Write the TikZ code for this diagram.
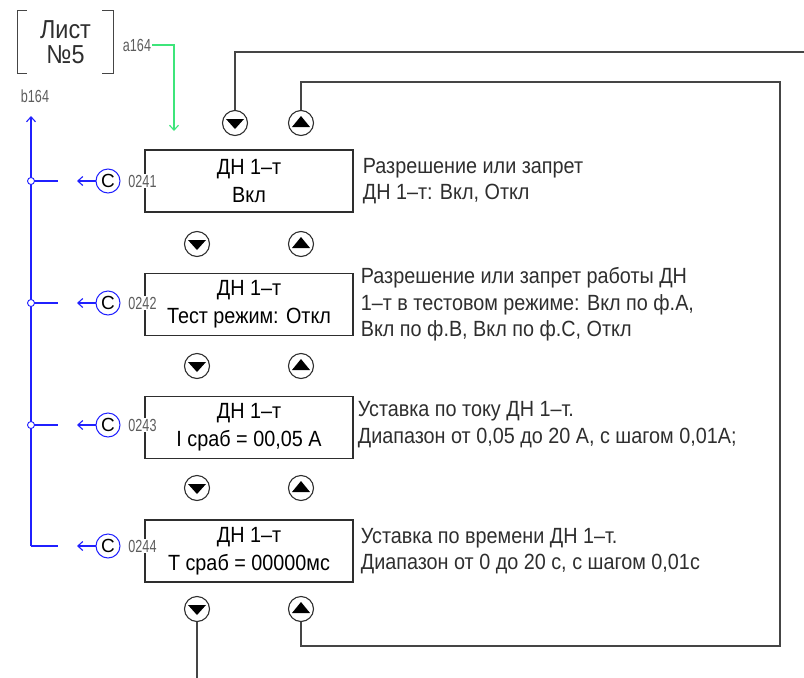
\documentclass[tikz,border=0pt]{standalone}
\usepackage{fontspec}
\setmainfont{Liberation Sans}[FakeStretch=0.9]
\newfontfamily\tagfont{Liberation Sans}[FakeStretch=0.72]
\newfontfamily\plainfont{Liberation Sans}
\usetikzlibrary{arrows.meta,positioning}
\definecolor{ink}{HTML}{2E2E2E}
\definecolor{wire}{HTML}{454545}
\definecolor{busblue}{HTML}{2020FF}
\definecolor{siggreen}{HTML}{3DE57A}
\definecolor{taggray}{HTML}{5C5C5C}

\begin{document}
\begin{tikzpicture}[x=1pt,y=-1pt,>={Straight Barb[length=5pt,width=9pt]}]
\tikzset{menubox/.style={draw=ink,line width=1.3pt,minimum width=208pt,minimum height=62pt,align=center,inner sep=0pt,font=\fontsize{22}{28}\selectfont},
note/.style={anchor=west,align=left,inner sep=0pt,text=ink,font=\fontsize{22}{26.5}\selectfont},
btndn/.style={circle,draw=ink,line width=1.1pt,fill=white,minimum size=25pt,inner sep=0pt,path picture={\fill[black] ([xshift=-9pt,yshift=4pt]path picture bounding box.center) -- ++(18pt,0pt) -- ++(-9pt,-10pt) -- cycle;}},
btnup/.style={circle,draw=ink,line width=1.1pt,fill=white,minimum size=25pt,inner sep=0pt,path picture={\fill[black] ([xshift=-9pt,yshift=-4pt]path picture bounding box.center) -- ++(18pt,0pt) -- ++(-9pt,11pt) -- cycle;}},
cnode/.style={circle,draw=busblue,line width=1pt,minimum size=24pt,inner sep=0pt,font=\plainfont\fontsize{19}{19}\selectfont},
tag/.style={fill=white,inner sep=1pt,text=taggray,font=\tagfont\fontsize{17.5}{17.5}\selectfont},
jn/.style={circle,draw=busblue,line width=0.9pt,minimum size=7pt,inner sep=0pt},
bus/.style={draw=busblue,line width=1.1pt},
wire/.style={draw=wire,line width=1.4pt},
sig/.style={draw=siggreen,line width=1.1pt},
brk/.style={draw=wire,line width=1.3pt}}
\useasboundingbox (0,0) rectangle (804,678);

% sheet reference
\node[minimum width=95pt,minimum height=62pt,align=center,text=ink,font=\fontsize{26}{25}\selectfont] (sheet) at (65.5,42) {Лист\\№5};
\draw[brk] ([xshift=9pt]sheet.north west) -- (sheet.north west) -- (sheet.south west) -- ([xshift=9pt]sheet.south west);
\draw[brk] ([xshift=-11pt]sheet.north east) -- (sheet.north east) -- (sheet.south east) -- ([xshift=-11pt]sheet.south east);
\node[tag] (lblA) at (137,45) {a164};
\node[tag] (lblB) at (35,96) {b164};

% menu
\node[menubox] (box1) at (249,181) {ДН 1–т\\Вкл};
\node[menubox,below=60pt of box1] (box2) {ДН 1–т\\Тест режим: Откл};
\node[menubox,below=60pt of box2] (box3) {ДН 1–т\\I сраб = 00,05 А};
\node[menubox,below=60pt of box3] (box4) {ДН 1–т\\Т сраб = 00000мс};
\node[note,right=9pt of box1] (n1) {Разрешение или запрет\\ДН 1–т: Вкл, Откл};
\node[note,right=7pt of box2] (n2) {Разрешение или запрет работы ДН\\1–т в тестовом режиме: Вкл по ф.А,\\Вкл по ф.В, Вкл по ф.С, Откл};
\node[note,right=4pt of box3,yshift=3pt] (n3) {Уставка по току ДН 1–т.\\Диапазон от 0,05 до 20 А, с шагом 0,01А;};
\node[note,right=7pt of box4] (n4) {Уставка по времени ДН 1–т.\\Диапазон от 0 до 20 с, с шагом 0,01с};

% buttons
\node[btndn] (d0) at (235,123) {};
\node[btnup] (u0) at (301,123) {};
\foreach \i/\y in {1/244,2/366,3/488,4/609}{
  \node[btndn] (d\i) at (197,\y) {};
  \node[btnup] (u\i) at (301,\y) {};
}

% wires
\coordinate (w0) at (804,52);
\coordinate (r1) at (780,82);
\coordinate (r2) at (780,646);
\coordinate (bot) at (197,678);
\draw[wire] (d0.north) |- (w0);
\draw[wire] (u0.north) |- (r1) -- (r2) -| (u4.south);
\draw[wire] (d4.south) -- (bot);
\coordinate (gend) at (174,131);
\draw[sig,->] (lblA.east) -| (gend);

% bus
\coordinate (btop) at (31,116);
\coordinate (bbot) at (31,546);
\draw[bus,->] (bbot) -- (btop);
\foreach \i/\y/\t in {1/181/0241,2/303/0242,3/425/0243,4/546/0244}{
  \coordinate (h\i) at (58,\y);
  \coordinate (a\i) at (77,\y);
  \node[cnode] (c\i) at (108,\y) {C};
  \node[tag] (t\i) at (142.5,\y) {\t};
  \draw[bus] (31,\y) -- (h\i);
  \draw[bus,->] (c\i) -- (a\i);
}
\foreach \i in {1,2,3}{\node[jn,fill=white] (j\i) at (31,{59+122*\i}) {}; \draw[bus] (j\i) -- (h\i);}
\end{tikzpicture}
\end{document}
